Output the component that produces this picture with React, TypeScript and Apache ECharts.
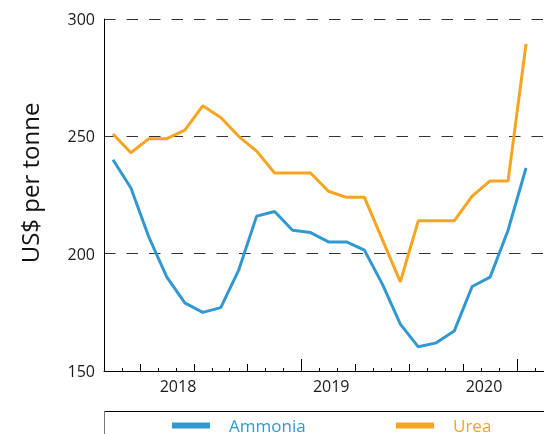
import React, { useEffect, useRef } from "react";
import * as echarts from "echarts";

// Data, one value per period
const ammonia = [240, 228, 207, 190, 179, 175, 177, 193, 216, 218, 210, 209, 205, 205, 201.5, 187, 170, 160.3, 162, 167, 186, 190, 210, 236.5];
const urea = [251, 243, 249, 249, 252.6, 263, 258, 250, 243.7, 234.4, 234.4, 234.4, 226.6, 224, 224, 206, 188, 214, 214, 214, 224.5, 231, 231, 289.4];

// Axis ticks and labels (in axis units)
const yearLabels = ["2018", "2019", "2020"];
const yearLabelPos = [4.12, 12.65, 21.16];
const minorTicks = Array.from({ length: 24 }, (_, i) => i + 1);
const quarterTicks = [2, 5, 8, 11, 14, 17, 20, 23];
const yearTicks = [11, 23];
const yTicks = { min: 150, max: 300, interval: 50 };

const BLUE = "#3199d1";
const ORANGE = "#f7a420";
const FONT = "Open Sans";

export default function App() {
  const ref = useRef<HTMLDivElement>(null);
  useEffect(() => {
    if (!ref.current) return;
    const chart = echarts.init(ref.current, undefined, { renderer: "svg" });
    const baseX = {
      type: "value" as const,
      min: 0,
      max: 24.5,
      position: "bottom" as const,
      splitLine: { show: false },
    };
    chart.setOption({
      animation: false,
      grid: { left: 104, top: 19, right: 0, bottom: 63 },
      xAxis: [
        {
          ...baseX,
          axisLine: { show: true, lineStyle: { color: "#000", width: 1 } },
          axisTick: { show: true, inside: true, length: 3, customValues: minorTicks, lineStyle: { color: "#000" } },
          axisLabel: {
            show: true,
            customValues: yearLabelPos,
            showMinLabel: true,
            showMaxLabel: true,
            margin: 7,
            fontFamily: FONT,
            fontSize: 16,
            color: "#1a1a1a",
            formatter: (v: number) => {
              let best = 0;
              yearLabelPos.forEach((p, i) => {
                if (Math.abs(p - v) < Math.abs(yearLabelPos[best] - v)) best = i;
              });
              return yearLabels[best];
            },
          },
        },
        {
          ...baseX,
          axisLine: { show: false },
          axisTick: { show: true, inside: true, length: 7, customValues: quarterTicks, lineStyle: { color: "#000" } },
          axisLabel: { show: false },
        },
        {
          ...baseX,
          axisLine: { show: false },
          axisTick: { show: true, inside: true, length: 12, customValues: yearTicks, lineStyle: { color: "#000" } },
          axisLabel: { show: false },
        },
      ],
      yAxis: {
        type: "value",
        min: yTicks.min,
        max: yTicks.max,
        interval: yTicks.interval,
        axisLine: { show: true, lineStyle: { color: "#000", width: 1 } },
        axisTick: { show: false },
        axisLabel: { margin: 9, fontFamily: FONT, fontSize: 16, color: "#1a1a1a" },
        splitLine: { show: true, lineStyle: { color: "#333", width: 1, type: [11.5, 11] } },
      },
      legend: [
        {
          left: 172,
          top: 417,
          padding: 0,
          icon: "rect",
          itemWidth: 38,
          itemHeight: 6,
          data: [{ name: "Ammonia", textStyle: { color: BLUE } }],
          textStyle: { fontFamily: FONT, fontSize: 17, padding: [0, 0, 0, 14] },
        },
        {
          left: 396,
          top: 417,
          padding: 0,
          icon: "rect",
          itemWidth: 38,
          itemHeight: 6,
          data: [{ name: "Urea", textStyle: { color: ORANGE } }],
          textStyle: { fontFamily: FONT, fontSize: 17, padding: [0, 0, 0, 14] },
        },
      ],
      graphic: [
        {
          type: "text",
          x: 29,
          y: 183,
          rotation: Math.PI / 2,
          style: {
            text: "US$ per tonne",
            fontFamily: FONT,
            fontSize: 24,
            fill: "#111",
            textAlign: "center",
            textVerticalAlign: "middle",
            align: "center",
            verticalAlign: "middle",
          },
        },
        { type: "line", shape: { x1: 104, y1: 411.5, x2: 544, y2: 411.5 }, style: { stroke: "#000", lineWidth: 1 } },
        { type: "line", shape: { x1: 104.5, y1: 411, x2: 104.5, y2: 434 }, style: { stroke: "#777", lineWidth: 1 } },
      ],
      series: [
        {
          name: "Ammonia",
          type: "line",
          xAxisIndex: 0,
          data: ammonia.map((v, i) => [i + 0.5, v]),
          color: BLUE,
          showSymbol: false,
          lineStyle: { color: BLUE, width: 3 },
        },
        {
          name: "Urea",
          type: "line",
          xAxisIndex: 0,
          data: urea.map((v, i) => [i + 0.5, v]),
          color: ORANGE,
          showSymbol: false,
          lineStyle: { color: ORANGE, width: 3 },
        },
      ],
    });
    return () => chart.dispose();
  }, []);
  return <div ref={ref} style={{ position: "fixed", left: 0, top: 0, width: 544, height: 434 }} />;
}
